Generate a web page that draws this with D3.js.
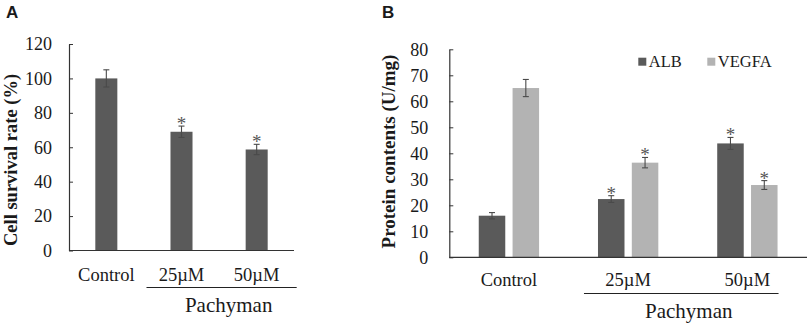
<!DOCTYPE html>
<html>
<head>
<meta charset="utf-8">
<script src="https://cdn.jsdelivr.net/npm/d3@7"></script>
<style>
  body { margin: 0; background: #fff; }
  svg text { font-family: "Liberation Serif", "Times New Roman", serif; fill: #1a1a1a; }
  svg text.panel { font-family: "Liberation Sans", Arial, sans-serif; font-weight: bold; }
</style>
</head>
<body>
<div id="chart"></div>
<script>
// panel A : cell survival
var groupsA = ["Control", "25\u00b5M", "50\u00b5M"],
    survival = [100, 69, 58.7],
    survivalErr = [5, 3.3, 3],
    survivalSig = [false, true, true],
    ticksA = [0, 20, 40, 60, 80, 100, 120];

// panel B : protein contents
var groupsB = ["Control", "25\u00b5M", "50\u00b5M"],
    seriesB = ["ALB", "VEGFA"],
    albVals = [16, 22.4, 43.8],
    albErr = [1.2, 1.3, 2.3],
    albSig = [false, true, true],
    vegfaVals = [65.1, 36.4, 27.8],
    vegfaErr = [3.3, 2, 1.7],
    vegfaSig = [false, true, true],
    ticksB = [0, 10, 20, 30, 40, 50, 60, 70, 80];

var dark = "#5a5a5a", light = "#b3b3b3", axisCol = "#333";
var colB = {ALB: dark, VEGFA: light};
var serif = "'Liberation Serif', 'Times New Roman', serif";

var svg = d3.select("#chart").append("svg")
  .attr("width", 809).attr("height", 324);

// ---------- panel A ----------
var xA = d3.scaleBand().domain(groupsA).range([69, 294])
      .paddingInner(0.707).paddingOuter(0.35),
    yA = d3.scaleLinear().domain([0, 120]).range([250.5, 44]);

svg.append("text").attr("class", "panel").attr("x", 6).attr("y", 17.5)
  .style("font-size", "17px").text("A");

var gA = svg.append("g");
var dataA = groupsA.map((g, i) => ({g: g, v: survival[i], e: survivalErr[i], s: survivalSig[i]}));

gA.selectAll("rect.bar").data(dataA).join("rect")
  .attr("class", "bar")
  .attr("x", d => xA(d.g)).attr("width", xA.bandwidth())
  .attr("y", d => yA(d.v)).attr("height", d => yA(0) - yA(d.v))
  .attr("fill", dark);

drawErr(gA, dataA.map(d => ({cx: xA(d.g) + xA.bandwidth() / 2, v: d.v, e: d.e, s: d.s})), yA);

gA.append("g").attr("transform", "translate(69,0)")
  .call(d3.axisLeft(yA).tickValues(ticksA).tickSizeInner(-4).tickSizeOuter(0).tickPadding(17))
  .call(styleAxis);
gA.append("line").attr("x1", 69).attr("x2", 294).attr("y1", yA(0)).attr("y2", yA(0))
  .attr("stroke", axisCol).attr("stroke-width", 1.2);

gA.selectAll("text.cat").data(groupsA).join("text")
  .attr("class", "cat").attr("text-anchor", "middle").style("font-family", serif)
  .attr("x", d => xA(d) + xA.bandwidth() / 2).attr("y", 281)
  .style("font-size", "18.5px").text(d => d);

gA.append("line")
  .attr("x1", xA(groupsA[1]) - 24).attr("x2", xA(groupsA[2]) + xA.bandwidth() + 29)
  .attr("y1", 287.5).attr("y2", 287.5).attr("stroke", "#222").attr("stroke-width", 1.2);
gA.append("text").attr("text-anchor", "middle").style("font-family", serif)
  .attr("x", xA(groupsA[2]) - 17).attr("y", 312)
  .style("font-size", "21px").text("Pachyman");

gA.append("text").attr("transform", "translate(16.5,160) rotate(-90)")
  .attr("text-anchor", "middle").style("font-family", serif)
  .style("font-weight", "bold").style("font-size", "18.5px")
  .text("Cell survival rate (%)");

// ---------- panel B ----------
var x0 = d3.scaleBand().domain(groupsB).range([449.3, 807])
      .paddingInner(0.494).paddingOuter(0.247),
    x1 = d3.scaleBand().domain(seriesB).range([0, x0.bandwidth()]).paddingInner(0.216),
    yB = d3.scaleLinear().domain([0, 80]).range([257.3, 49.3]);

svg.append("text").attr("class", "panel").attr("x", 382).attr("y", 17.5)
  .style("font-size", "17px").text("B");

var gB = svg.append("g");
var dataB = [];
groupsB.forEach((g, i) => {
  dataB.push({g: g, k: "ALB", v: albVals[i], e: albErr[i], s: albSig[i]});
  dataB.push({g: g, k: "VEGFA", v: vegfaVals[i], e: vegfaErr[i], s: vegfaSig[i]});
});

gB.selectAll("rect.bar").data(dataB).join("rect")
  .attr("class", "bar")
  .attr("x", d => x0(d.g) + x1(d.k)).attr("width", x1.bandwidth())
  .attr("y", d => yB(d.v)).attr("height", d => yB(0) - yB(d.v))
  .attr("fill", d => colB[d.k]);

drawErr(gB, dataB.map(d => ({cx: x0(d.g) + x1(d.k) + x1.bandwidth() / 2, v: d.v, e: d.e, s: d.s})), yB);

gB.append("g").attr("transform", "translate(449.3,0)")
  .call(d3.axisLeft(yB).tickValues(ticksB).tickSizeInner(-4).tickSizeOuter(0).tickPadding(21))
  .call(styleAxis);
gB.append("line").attr("x1", 449.3).attr("x2", 807).attr("y1", yB(0)).attr("y2", yB(0))
  .attr("stroke", axisCol).attr("stroke-width", 1.2);

gB.selectAll("text.cat").data(groupsB).join("text")
  .attr("class", "cat").attr("text-anchor", "middle").style("font-family", serif)
  .attr("x", d => x0(d) + x0.bandwidth() / 2).attr("y", 286)
  .style("font-size", "18.5px").text(d => d);

gB.append("line")
  .attr("x1", x0(groupsB[1]) - 14).attr("x2", x0(groupsB[2]) + x0.bandwidth() + 1)
  .attr("y1", 293.5).attr("y2", 293.5).attr("stroke", "#222").attr("stroke-width", 1.2);
gB.append("text").attr("text-anchor", "middle").style("font-family", serif)
  .attr("x", (x0(groupsB[1]) + x0(groupsB[2]) + x0.bandwidth()) / 2 + 1).attr("y", 318)
  .style("font-size", "21px").text("Pachyman");

gB.append("text").attr("transform", "translate(395,151.5) rotate(-90)")
  .attr("text-anchor", "middle").style("font-family", serif)
  .style("font-weight", "bold").style("font-size", "19px")
  .text("Protein contents (U/mg)");

// legend
var legX = [638.3, 707.3];
var leg = gB.selectAll("g.leg").data(seriesB).join("g")
  .attr("class", "leg").attr("transform", (d, i) => "translate(" + legX[i] + ",57.7)");
leg.append("rect").attr("width", 8).attr("height", 8).attr("fill", d => colB[d]);
leg.append("text").attr("x", 10.5).attr("y", 9).style("font-family", serif)
  .style("font-size", "16.5px").text(d => d);

function drawErr(g, pts, y) {
  var cap = 3;
  pts.forEach(p => {
    var eg = g.append("g").attr("stroke", "#4a4a4a").attr("stroke-width", 1.1);
    eg.append("line").attr("x1", p.cx).attr("x2", p.cx).attr("y1", y(p.v - p.e)).attr("y2", y(p.v + p.e));
    eg.append("line").attr("x1", p.cx - cap).attr("x2", p.cx + cap).attr("y1", y(p.v + p.e)).attr("y2", y(p.v + p.e));
    eg.append("line").attr("x1", p.cx - cap).attr("x2", p.cx + cap).attr("y1", y(p.v - p.e)).attr("y2", y(p.v - p.e));
    if (p.s) {
      g.append("text").attr("text-anchor", "middle").attr("x", p.cx).attr("y", y(p.v + p.e) + 4)
        .style("font-family", serif).style("font-size", "19px").style("fill", "#555").text("*");
    }
  });
}

function styleAxis(sel) {
  sel.attr("font-family", null);
  sel.select(".domain").attr("stroke", axisCol).attr("stroke-width", 1.2);
  sel.selectAll(".tick line").attr("stroke", axisCol);
  sel.selectAll(".tick text").style("font-family", serif)
    .style("font-size", "18px").attr("fill", "#1a1a1a");
}
</script>
</body>
</html>
